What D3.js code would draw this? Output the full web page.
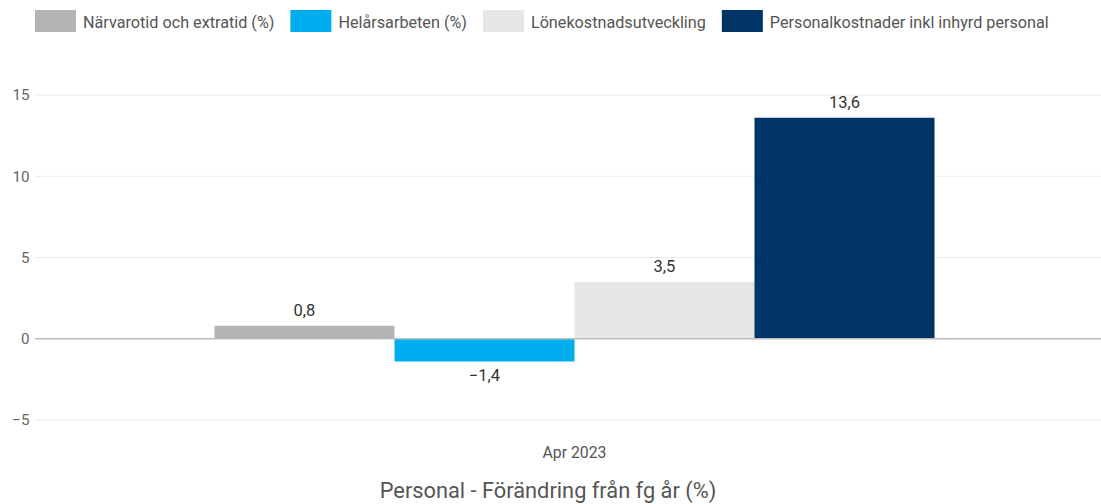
<!DOCTYPE html>
<html><head><meta charset="utf-8">
<script src="https://cdn.jsdelivr.net/npm/d3@7"></script>
<style>body{margin:0;background:#fff;font-family:Roboto,"Noto Sans",sans-serif}</style>
</head><body>
<svg id="c" width="1101" height="504"></svg>
<script>
const categories = ["Apr 2023"];
const seriesNames = ["Närvarotid och extratid (%)", "Helårsarbeten (%)", "Lönekostnadsutveckling", "Personalkostnader inkl inhyrd personal"];
const seriesValues = [0.8, -1.4, 3.5, 13.6];
const seriesColors = ["#b3b3b3", "#00aeef", "#e6e6e6", "#003366"];
const yTicks = [-5, 0, 5, 10, 15];
const title = "Personal - Förändring från fg år (%)";

const svg = d3.select("#c");
const W = 1101;
const left = 35, right = 1114;
const y = d3.scaleLinear().domain([-5, 15]).range([420, 95]);
const x = d3.scaleBand().domain(categories).range([left, right]).paddingInner(0).paddingOuter(0.2493);
const xs = d3.scaleBand().domain(seriesNames).range([0, x.bandwidth()]).padding(0);
const fmt = v => d3.format(".1f")(v).replace(".", ",").replace("-", "\u2212");

// gridlines
svg.append("g").selectAll("line").data(yTicks.filter(t => t !== 0)).join("line")
  .attr("x1", left).attr("x2", W).attr("y1", d => y(d)).attr("y2", d => y(d))
  .attr("stroke", "#e8ebf0").attr("stroke-width", 1);

// y axis labels
const yAxis = d3.axisLeft(y).tickValues(yTicks).tickSize(0).tickPadding(0)
  .tickFormat(d => String(d).replace("-", "\u2212"));
const ga = svg.append("g").attr("transform", `translate(29.5,0)`).call(yAxis);
ga.select(".domain").remove();
ga.selectAll("text").attr("font-family", "Roboto").attr("font-size", 15.2).attr("fill", "#666");

// bars
const g = svg.append("g").attr("transform", `translate(${x(categories[0])},0)`);
g.selectAll("rect").data(seriesNames).join("rect")
  .attr("x", d => xs(d)).attr("width", xs.bandwidth())
  .attr("y", (d, i) => y(Math.max(0, seriesValues[i])))
  .attr("height", (d, i) => Math.abs(y(seriesValues[i]) - y(0)))
  .attr("fill", (d, i) => seriesColors[i]);

// value labels
g.selectAll("text.v").data(seriesNames).join("text").attr("class", "v")
  .attr("x", d => xs(d) + xs.bandwidth() / 2)
  .attr("y", (d, i) => seriesValues[i] >= 0 ? y(seriesValues[i]) - 9.5 : y(seriesValues[i]) + 19.5)
  .attr("text-anchor", "middle").attr("font-family", "Roboto").attr("font-size", 16.5).attr("fill", "#333")
  .text((d, i) => fmt(seriesValues[i]));

// zero line
svg.append("line").attr("x1", left).attr("x2", W).attr("y1", y(0)).attr("y2", y(0))
  .attr("stroke", "#bdbdbd").attr("stroke-width", 1.5);

// x axis labels
const xAxis = d3.axisBottom(x).tickSize(0).tickPadding(0);
const gx = svg.append("g").attr("transform", `translate(0,446)`).call(xAxis);
gx.select(".domain").remove();
gx.selectAll("text").attr("font-family", "Roboto").attr("font-size", 15.8).attr("fill", "#555")
  .attr("dy", null).attr("y", 12);

// title
svg.append("text").attr("x", 548).attr("y", 498)
  .attr("text-anchor", "middle").attr("font-family", "Roboto").attr("font-size", 21.8).attr("fill", "#555")
  .text(title);

// legend
const lg = svg.append("g");
let lx = 35;
seriesNames.forEach((n, i) => {
  lg.append("rect").attr("x", lx).attr("y", 10).attr("width", 41).attr("height", 22).attr("fill", seriesColors[i]);
  const t = lg.append("text").attr("x", lx + 48).attr("y", 27.5).attr("font-family", "Roboto").attr("font-size", 16.2)
    .attr("fill", "#555").text(n);
  lx += 48 + t.node().getComputedTextLength() + 16;
});
</script>
</body></html>
